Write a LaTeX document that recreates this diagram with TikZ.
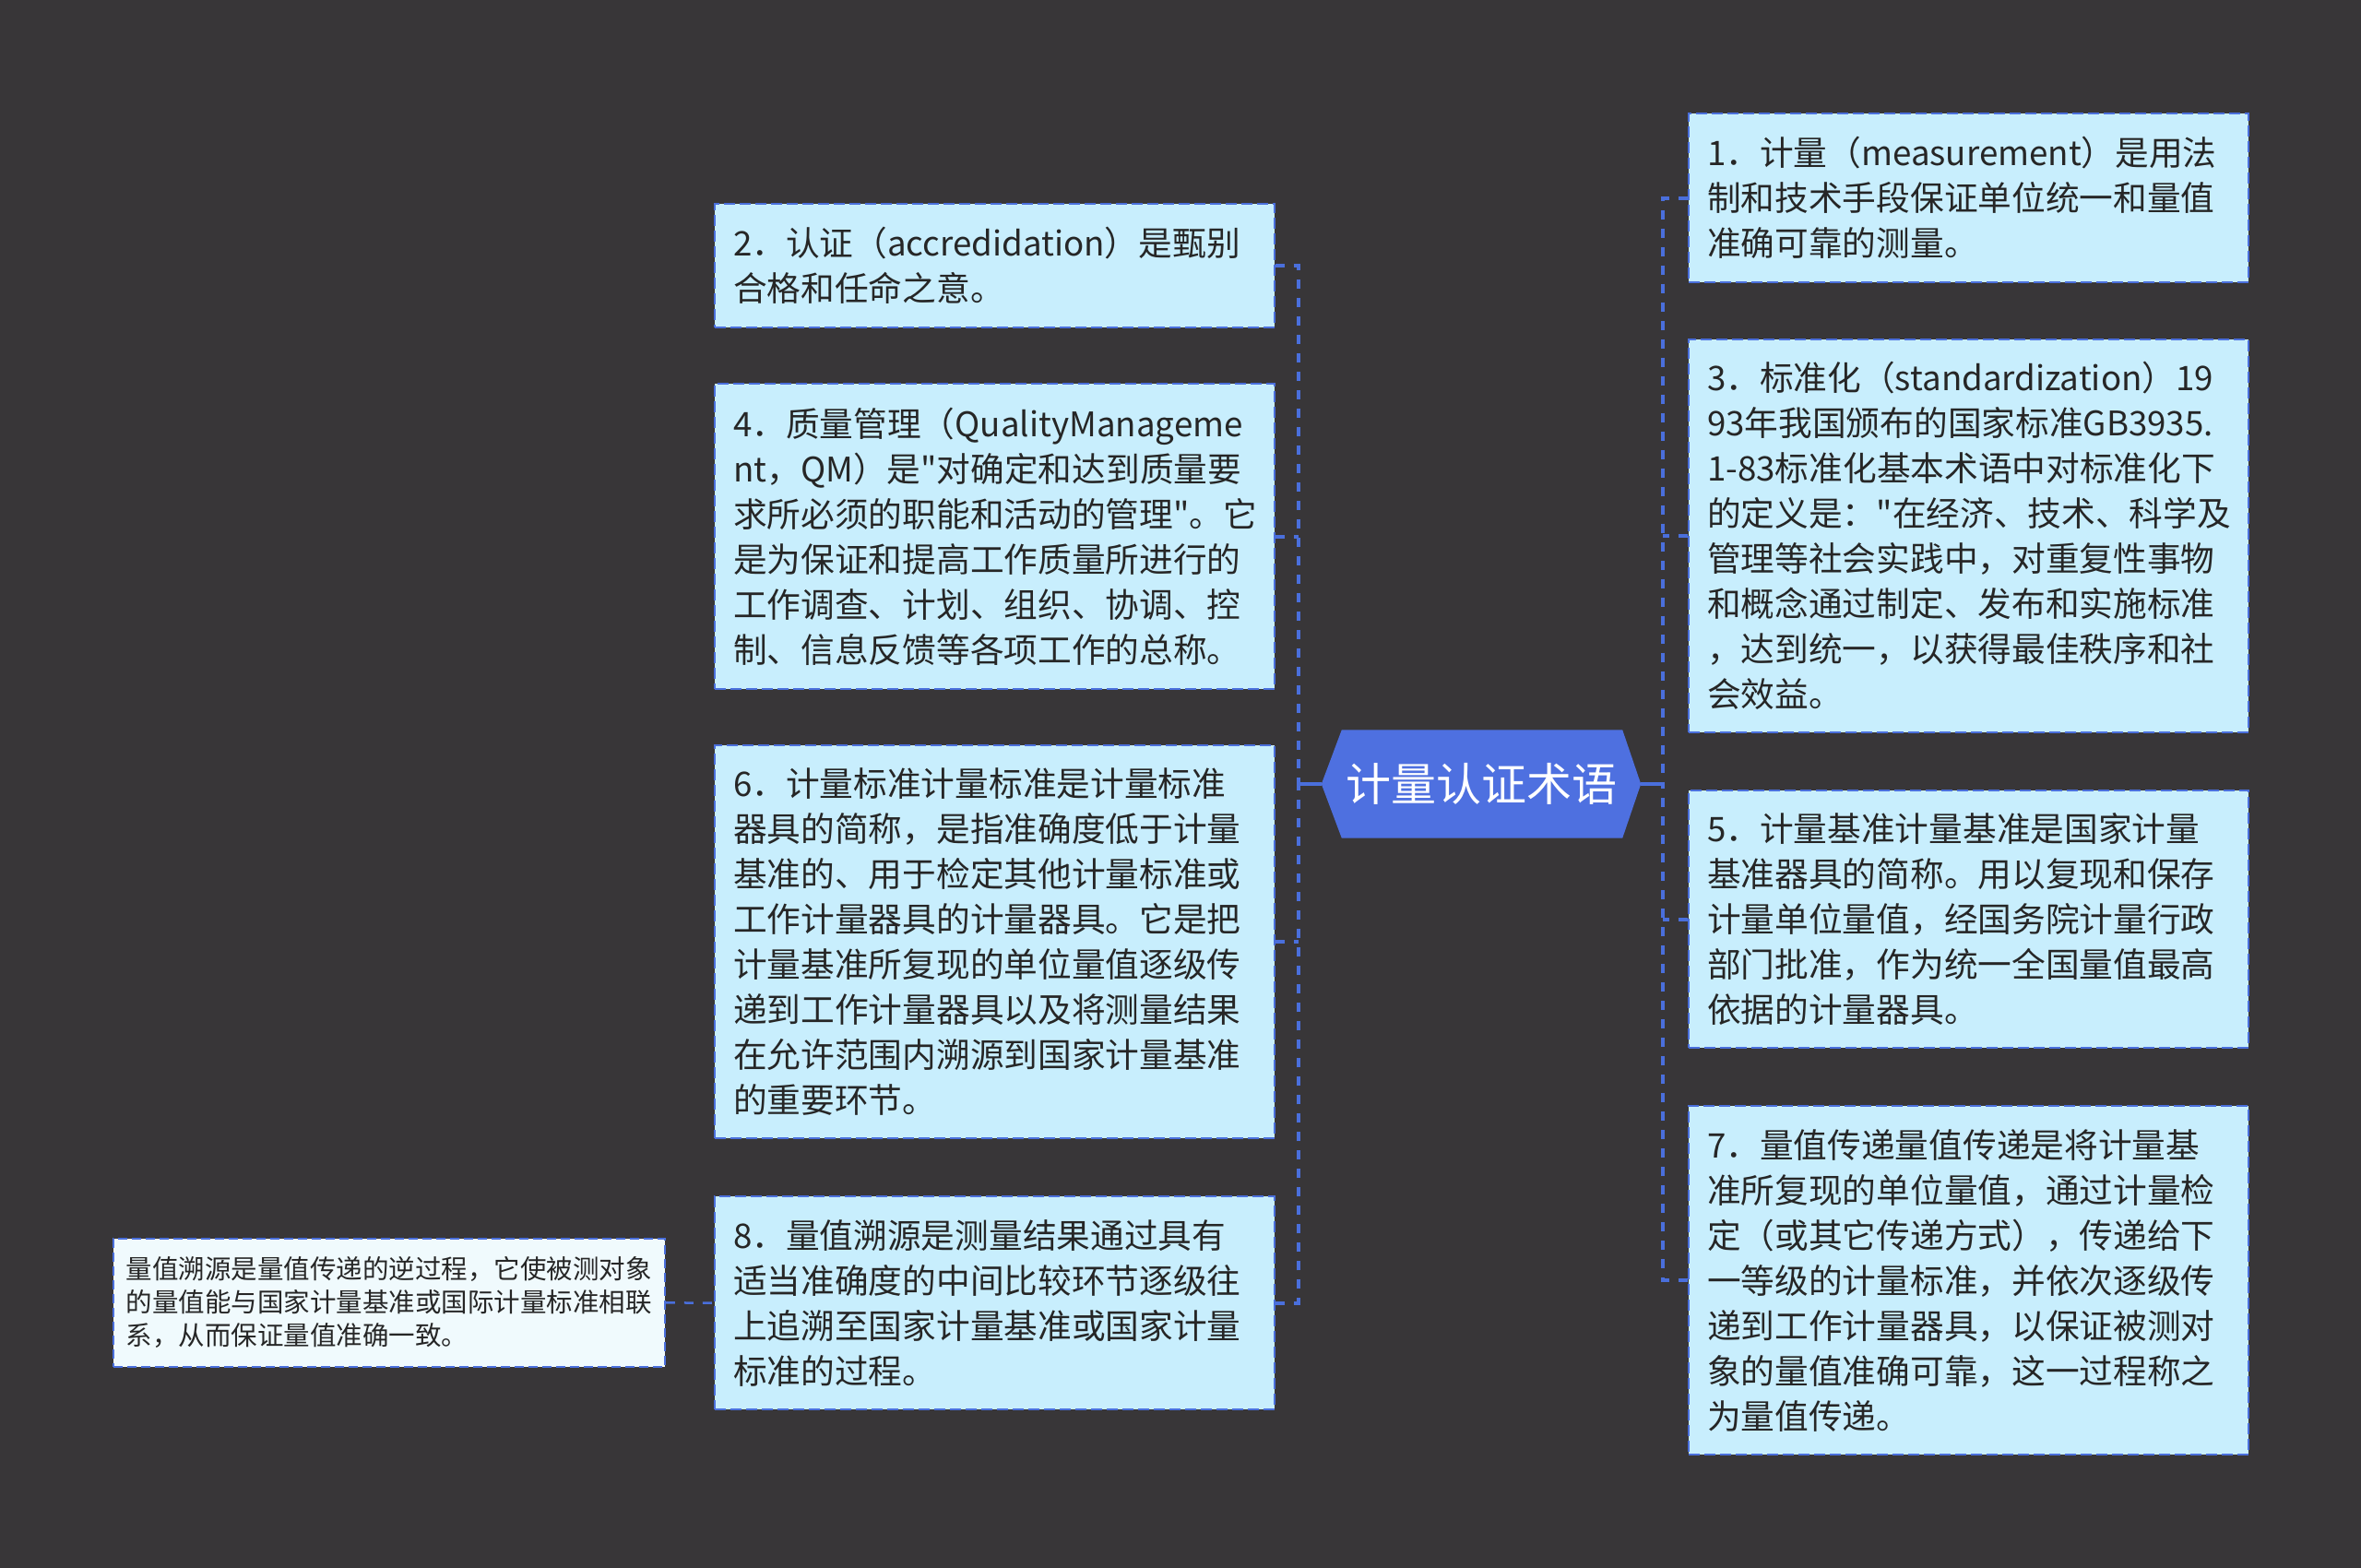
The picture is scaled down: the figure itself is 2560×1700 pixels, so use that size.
\documentclass[tikz,border=0pt]{standalone}
\usepackage{fontspec}
\setmainfont{Noto Sans CJK SC}[Ligatures=TeXOff]
\definecolor{bg}{HTML}{383638}
\definecolor{boxfill}{HTML}{C8EEFD}
\definecolor{leaffill}{HTML}{F0FAFD}
\definecolor{bord}{HTML}{4A6FDC}
\definecolor{rootfill}{HTML}{4E70E0}
\definecolor{txt}{HTML}{262626}
\tikzset{
  topic/.style={draw=bord, dash pattern=on 12pt off 5pt, line width=2.2pt,
    fill=boxfill, text=txt, font=\fontsize{36.7}{49}\selectfont,
    align=left, text width=567pt, inner xsep=20pt, inner ysep=0pt,
    minimum width=607pt, anchor=north west},
  leafbox/.style={draw=bord, dash pattern=on 10pt off 5pt, line width=1.8pt,
    fill=leaffill, text=txt, font=\fontsize{28.5}{36}\selectfont,
    align=left, text width=570pt, inner xsep=14pt, inner ysep=0pt,
    minimum width=598pt, anchor=north west},
  conn/.style={draw=bord, line width=4pt, dash pattern=on 10pt off 10pt},
  stub/.style={draw=bord, line width=4pt},
}
\begin{document}
\begin{tikzpicture}[x=1pt,y=-1pt]
\fill[bg] (0,0) rectangle (2560,1700);
\useasboundingbox (0,0) rectangle (2560,1700);

% root
\node[minimum width=346pt, minimum height=117pt, inner sep=0pt] (root) at (1606,850) {};
\fill[rootfill] (root.west) -- ([xshift=22pt]root.north west) -- ([xshift=-20pt]root.north east)
  -- (root.east) -- ([xshift=-20pt]root.south east) -- ([xshift=22pt]root.south west) -- cycle;
\node[text=white, font=\fontsize{49}{56}\selectfont] (roottext) at (root.center) {计量认证术语};

% left boxes
\node[topic, minimum height=134pt] (b2) at (774,220) {2．认证（accredidation）是甄别\\合格和任命之意。};
\node[topic, minimum height=331pt] (b4) at (774,415) {4．质量管理（QualityManageme\\nt，QM）是"对确定和达到质量要\\求所必须的职能和活动的管理"。它\\是为保证和提高工作质量所进行的\\工作调查、计划、组织、协调、控\\制、信息反馈等各项工作的总称。};
\node[topic, minimum height=426pt] (b6) at (774,807) {6．计量标准计量标准是计量标准\\器具的简称，是指准确度低于计量\\基准的、用于检定其他计量标准或\\工作计量器具的计量器具。它是把\\计量基准所复现的单位量值逐级传\\递到工作计量器具以及将测量结果\\在允许范围内溯源到国家计量基准\\的重要环节。};
\node[topic, minimum height=231pt] (b8) at (774,1296) {8．量值溯源是测量结果通过具有\\适当准确度的中间比较环节逐级往\\上追溯至国家计量基准或国家计量\\标准的过程。};

% leaf
\node[leafbox, minimum height=139pt] (leaf) at (122,1342) {量值溯源是量值传递的逆过程，它使被测对象\\的量值能与国家计量基准或国际计量标准相联\\系，从而保证量值准确一致。};

% right boxes
\node[topic, minimum height=183pt] (b1) at (1830,122) {1．计量（measurement）是用法\\制和技术手段保证单位统一和量值\\准确可靠的测量。};
\node[topic, minimum height=426pt] (b3) at (1830,367) {3．标准化（standardization）19\\93年我国颁布的国家标准GB3935.\\1-83标准化基本术语中对标准化下\\的定义是："在经济、技术、科学及\\管理等社会实践中，对重复性事物\\和概念通过制定、发布和实施标准\\，达到统一，以获得最佳秩序和社\\会效益。};
\node[topic, minimum height=279pt] (b5) at (1830,856) {5．计量基准计量基准是国家计量\\基准器具的简称。用以复现和保存\\计量单位量值，经国务院计量行政\\部门批准，作为统一全国量值最高\\依据的计量器具。};
\node[topic, minimum height=378pt] (b7) at (1830,1198) {7．量值传递量值传递是将计量基\\准所复现的单位量值，通过计量检\\定（或其它传递方式），传递给下\\一等级的计量标准，并依次逐级传\\递到工作计量器具，以保证被测对\\象的量值准确可靠，这一过程称之\\为量值传递。};

% trunk coordinates
\coordinate (lt) at (1408,850);
\coordinate (rt) at (1803,850);

% left connectors
\draw[stub] (root.west) -- (lt);
\draw[conn] (b2.east) -| (lt);
\draw[conn] (b8.east) -| (lt);
\draw[conn] (b4.east) -- (b4.east -| lt);
\draw[conn] (b6.east) -- (b6.east -| lt);

% right connectors
\draw[stub] (root.east) -- (rt);
\draw[conn] (b1.west) -| (rt);
\draw[conn] (b7.west) -| (rt);
\draw[conn] (b3.west) -- (b3.west -| rt);
\draw[conn] (b5.west) -- (b5.west -| rt);

% leaf connector
\draw[conn, line width=2.5pt] (leaf.east) -- (b8.west);
\end{tikzpicture}
\end{document}
